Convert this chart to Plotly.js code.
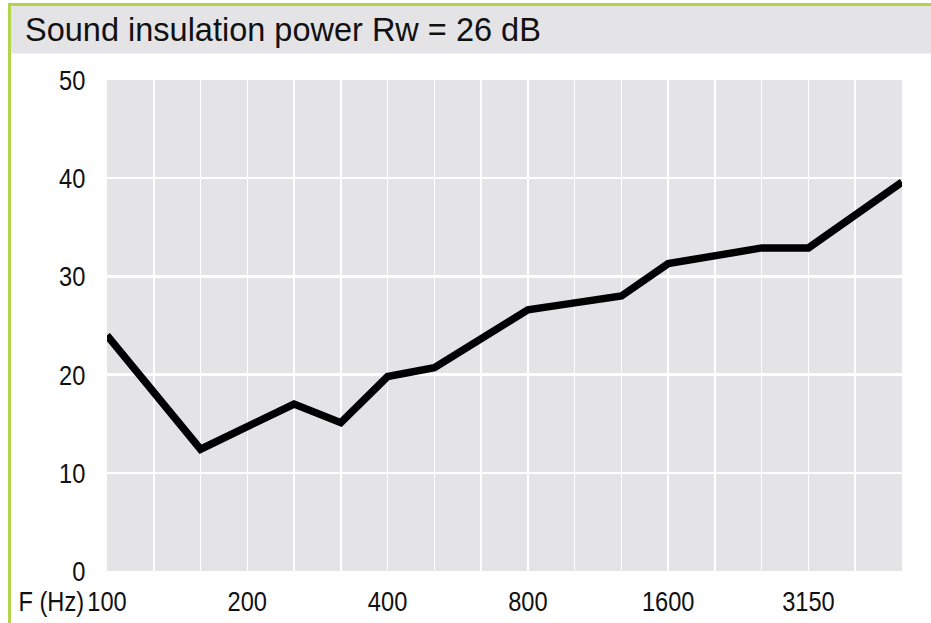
<!DOCTYPE html>
<html>
<head>
<meta charset="utf-8">
<script src="https://cdn.plot.ly/plotly-3.0.1.min.js"></script>
<style>
html,body{margin:0;padding:0;background:#fff;}
#chart{width:931px;height:623px;}
</style>
</head>
<body>
<div id="chart"></div>
<script>
// Frequencies (Hz), one per third-octave band
const frequencies = ['100','125','160','200','250','315','400','500','630','800','1000','1250','1600','2000','2500','3150','4000','5000'];
// Sound reduction index values (dB)
const insulation = [24, 18.2, 12.4, 14.7, 17.0, 15.1, 19.8, 20.7, 23.6, 26.6, 27.3, 28.0, 31.3, 32.1, 32.9, 32.9, 36.25, 39.6];
// Labelled ticks on the frequency axis
const labelledTicks = ['100','200','400','800','1600','3150'];
const yTicks = [0, 10, 20, 30, 40, 50];
const titleText = 'Sound insulation power Rw = 26 dB';
const xAxisLabel = 'F (Hz)';

const W = 931, H = 623;
const L = 107, R = 29, T = 80, B = 52;
const pw = W - L - R, ph = H - T - B;
const px = p => (p - L) / pw;
const py = p => (H - B - p) / ph;

const tickFont = {family: '"Liberation Sans", Arial, sans-serif', size: 28.5, color: '#111'};
const NARROW = 0.83;

const data = [{
  type: 'scatter',
  mode: 'lines',
  x: frequencies,
  y: insulation,
  line: {color: '#000', width: 7.5},
  hoverinfo: 'skip'
}];

const layout = {
  width: W, height: H,
  margin: {l: L, r: R, t: T, b: B, pad: 0},
  paper_bgcolor: '#fff',
  plot_bgcolor: '#e4e4e6',
  showlegend: false,
  title: {
    text: titleText,
    xref: 'container', yref: 'container',
    x: 25 / W, xanchor: 'left',
    y: 1 - 30 / H, yanchor: 'middle',
    font: {family: '"Liberation Sans", Arial, sans-serif', size: 32.5, color: '#111'}
  },
  xaxis: {
    type: 'category',
    range: [0, frequencies.length - 1],
    tickvals: frequencies,
    ticktext: frequencies.map(f => labelledTicks.includes(f) ? f : ''),
    showgrid: true, gridcolor: '#ffffff', gridwidth: 1.5,
    zeroline: false, showline: false,
    ticks: 'outside', ticklen: 5, tickcolor: 'rgba(0,0,0,0)',
    tickfont: tickFont,
    fixedrange: true
  },
  yaxis: {
    range: [0, 50],
    tickvals: yTicks,
    showgrid: true, gridcolor: '#ffffff', gridwidth: 2.5,
    zeroline: false, showline: false,
    ticks: 'outside', ticklen: 15, tickcolor: 'rgba(0,0,0,0)',
    tickfont: tickFont,
    fixedrange: true
  },
  shapes: [
    // title bar
    {type: 'rect', xref: 'paper', yref: 'paper', layer: 'below',
     x0: px(11), x1: px(935), y0: py(53.5), y1: py(5.5),
     fillcolor: '#e4e4e6', line: {width: 0}},
    // green frame: top
    {type: 'line', xref: 'paper', yref: 'paper',
     x0: px(8), x1: px(935), y0: py(4.5), y1: py(4.5),
     line: {color: '#b3d34b', width: 3}},
    // green frame: left
    {type: 'line', xref: 'paper', yref: 'paper',
     x0: px(9.5), x1: px(9.5), y0: py(3), y1: py(630),
     line: {color: '#b3d34b', width: 3}}
  ],
  annotations: [
    {text: xAxisLabel, xref: 'paper', yref: 'paper',
     x: px(86), xanchor: 'right', y: py(601), yanchor: 'middle',
     showarrow: false, font: tickFont}
  ]
};

function narrowText(el, pivotMode) {
  const bb = el.getBBox();
  let p;
  if (pivotMode === 'right') p = bb.x + bb.width;
  else {
    const a = el.getAttribute('text-anchor') || 'start';
    p = a === 'end' ? bb.x + bb.width : a === 'middle' ? bb.x + bb.width / 2 : bb.x;
  }
  const t = el.getAttribute('transform') || '';
  el.setAttribute('transform', `${t} translate(${p},0) scale(${NARROW},1) translate(${-p},0)`);
}

Plotly.newPlot('chart', data, layout, {displayModeBar: false, staticPlot: true}).then(gd => {
  gd.querySelectorAll('.xtick text, .ytick text').forEach(el => narrowText(el));
  gd.querySelectorAll('.annotation-text').forEach(el => narrowText(el, 'right'));
});
</script>
</body>
</html>
